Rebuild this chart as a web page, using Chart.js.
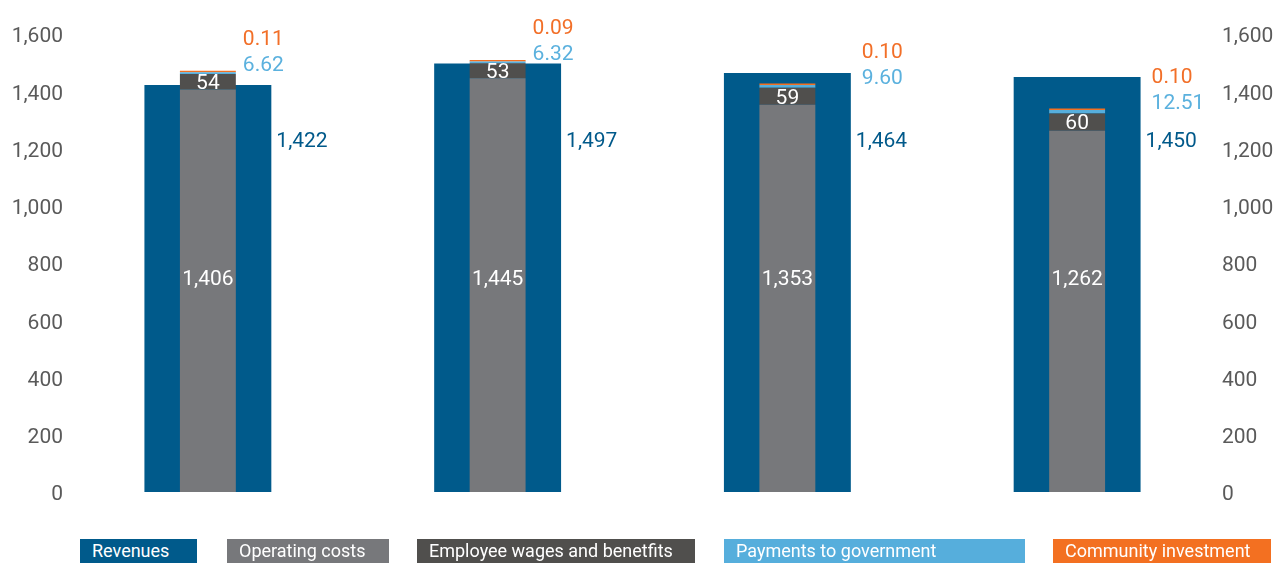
<!DOCTYPE html>
<html>
<head>
<meta charset="utf-8">
<script src="https://cdn.jsdelivr.net/npm/chart.js@4.4.1/dist/chart.umd.min.js"></script>
<style>
  html, body { margin: 0; padding: 0; background: #ffffff; }
  #wrap { position: relative; width: 1276px; height: 563px; overflow: hidden; }
  #c { position: absolute; left: 0; top: 0; }
  .lg { position: absolute; top: 539px; height: 24px; line-height: 24px; color: #ffffff;
        font-family: Roboto, "DejaVu Sans Condensed", sans-serif; font-size: 18px; padding-left: 12px; box-sizing: border-box; white-space: nowrap; }
</style>
</head>
<body>
<div id="wrap">
  <canvas id="c" width="1276" height="563"></canvas>
  <div id="legend"></div>
</div>
<script>
// ---- data ----
const categories = ['Period 1', 'Period 2', 'Period 3', 'Period 4'];
const revenues = [1422, 1497, 1464, 1450];
const operatingCosts = [1406, 1445, 1353, 1262];
const employeeWages = [54, 53, 59, 60];
const paymentsToGovernment = [6.62, 6.32, 9.60, 12.51];
const communityInvestment = [0.11, 0.09, 0.10, 0.10];
const yTicks = [0, 200, 400, 600, 800, 1000, 1200, 1400, 1600];
const seriesNames = ['Revenues', 'Operating costs', 'Employee wages and benetfits', 'Payments to government', 'Community investment'];

// ---- styles ----
const COLORS = ['#005A8B', '#77787B', '#504F4D', '#56AEDC', '#F37021'];
const TEXT_COLORS = { rev: '#00598A', gov: '#5BB1DE', com: '#F26F28', white: '#ffffff' };
const FONT = 'Roboto, "DejaVu Sans", sans-serif';
const REV_LABEL_LEVEL = 1225;
const OPS_LABEL_LEVEL = 740;

const labelPlugin = {
  id: 'valueLabels',
  afterDatasetsDraw(chart) {
    const ctx = chart.ctx;
    const y = chart.scales.y;
    const m = i => chart.getDatasetMeta(i).data;
    ctx.save();
    ctx.font = '21px ' + FONT;
    ctx.textBaseline = 'middle';
    categories.forEach((c, j) => {
      const rev = m(0)[j], ops = m(1)[j], emp = m(2)[j], com = m(4)[j];
      ctx.textAlign = 'left';
      ctx.fillStyle = TEXT_COLORS.rev;
      ctx.fillText(revenues[j].toLocaleString('en-US'), rev.x + rev.width / 2 + 5, y.getPixelForValue(REV_LABEL_LEVEL));
      ctx.textAlign = 'center';
      ctx.fillStyle = TEXT_COLORS.white;
      ctx.fillText(operatingCosts[j].toLocaleString('en-US'), ops.x, y.getPixelForValue(OPS_LABEL_LEVEL));
      ctx.fillText(String(employeeWages[j]), emp.x, (emp.y + emp.base) / 2 + 2);
      const stackTop = com.y;
      let lx;
      if (stackTop < rev.y) lx = com.x + com.width / 2 + 7;
      else lx = rev.x + rev.width / 2 + 11;
      const by = stackTop - 5;
      ctx.textAlign = 'left';
      ctx.fillStyle = TEXT_COLORS.gov;
      ctx.fillText(paymentsToGovernment[j].toFixed(2), lx, by);
      ctx.fillStyle = TEXT_COLORS.com;
      ctx.fillText(communityInvestment[j].toFixed(2), lx, by - 26);
    });
    ctx.restore();
  }
};

const stackedOpts = { barPercentage: 0.193, categoryPercentage: 1, stack: 'costs', grouped: false, order: 0, borderWidth: 0 };
const tickOpts = {
  color: '#5a5a5a',
  font: { family: FONT, size: 21 },
  padding: 0,
  labelOffset: 3,
  autoSkip: false
};

new Chart(document.getElementById('c'), {
  type: 'bar',
  data: {
    labels: categories,
    datasets: [
      { label: seriesNames[0], data: revenues, backgroundColor: COLORS[0], barPercentage: 0.438, categoryPercentage: 1, stack: 'rev', grouped: false, order: 1, borderWidth: 0 },
      Object.assign({ label: seriesNames[1], data: operatingCosts, backgroundColor: COLORS[1] }, stackedOpts),
      Object.assign({ label: seriesNames[2], data: employeeWages, backgroundColor: COLORS[2] }, stackedOpts),
      Object.assign({ label: seriesNames[3], data: paymentsToGovernment, backgroundColor: COLORS[3] }, stackedOpts),
      Object.assign({ label: seriesNames[4], data: communityInvestment, backgroundColor: COLORS[4], minBarLength: 1.5 }, stackedOpts)
    ]
  },
  options: {
    responsive: false,
    animation: false,
    layout: { padding: { top: 34, bottom: 71, left: 0, right: 0 } },
    plugins: { legend: { display: false }, tooltip: { enabled: false } },
    scales: {
      x: { display: false, grid: { display: false } },
      y: {
        stacked: true, position: 'left', min: 0, max: 1600,
        grid: { display: false, drawTicks: false }, border: { display: false },
        afterBuildTicks: s => { s.ticks = yTicks.map(v => ({ value: v })); },
        afterFit: s => { s.width = 63; },
        ticks: Object.assign({ callback: v => v.toLocaleString('en-US') }, tickOpts)
      },
      y2: {
        position: 'right', min: 0, max: 1600,
        grid: { display: false, drawTicks: false }, border: { display: false },
        afterBuildTicks: s => { s.ticks = yTicks.map(v => ({ value: v })); },
        afterFit: s => { s.width = 54; },
        ticks: Object.assign({ callback: v => v.toLocaleString('en-US') }, tickOpts)
      }
    }
  },
  plugins: [labelPlugin]
});

const legendBoxes = [[80, 117], [227, 162], [417, 278], [724, 301], [1053, 218]];
const lg = document.getElementById('legend');
seriesNames.forEach((n, i) => {
  const d = document.createElement('div');
  d.className = 'lg';
  d.style.left = legendBoxes[i][0] + 'px';
  d.style.width = legendBoxes[i][1] + 'px';
  d.style.background = COLORS[i];
  d.textContent = n;
  lg.appendChild(d);
});
</script>
</body>
</html>
